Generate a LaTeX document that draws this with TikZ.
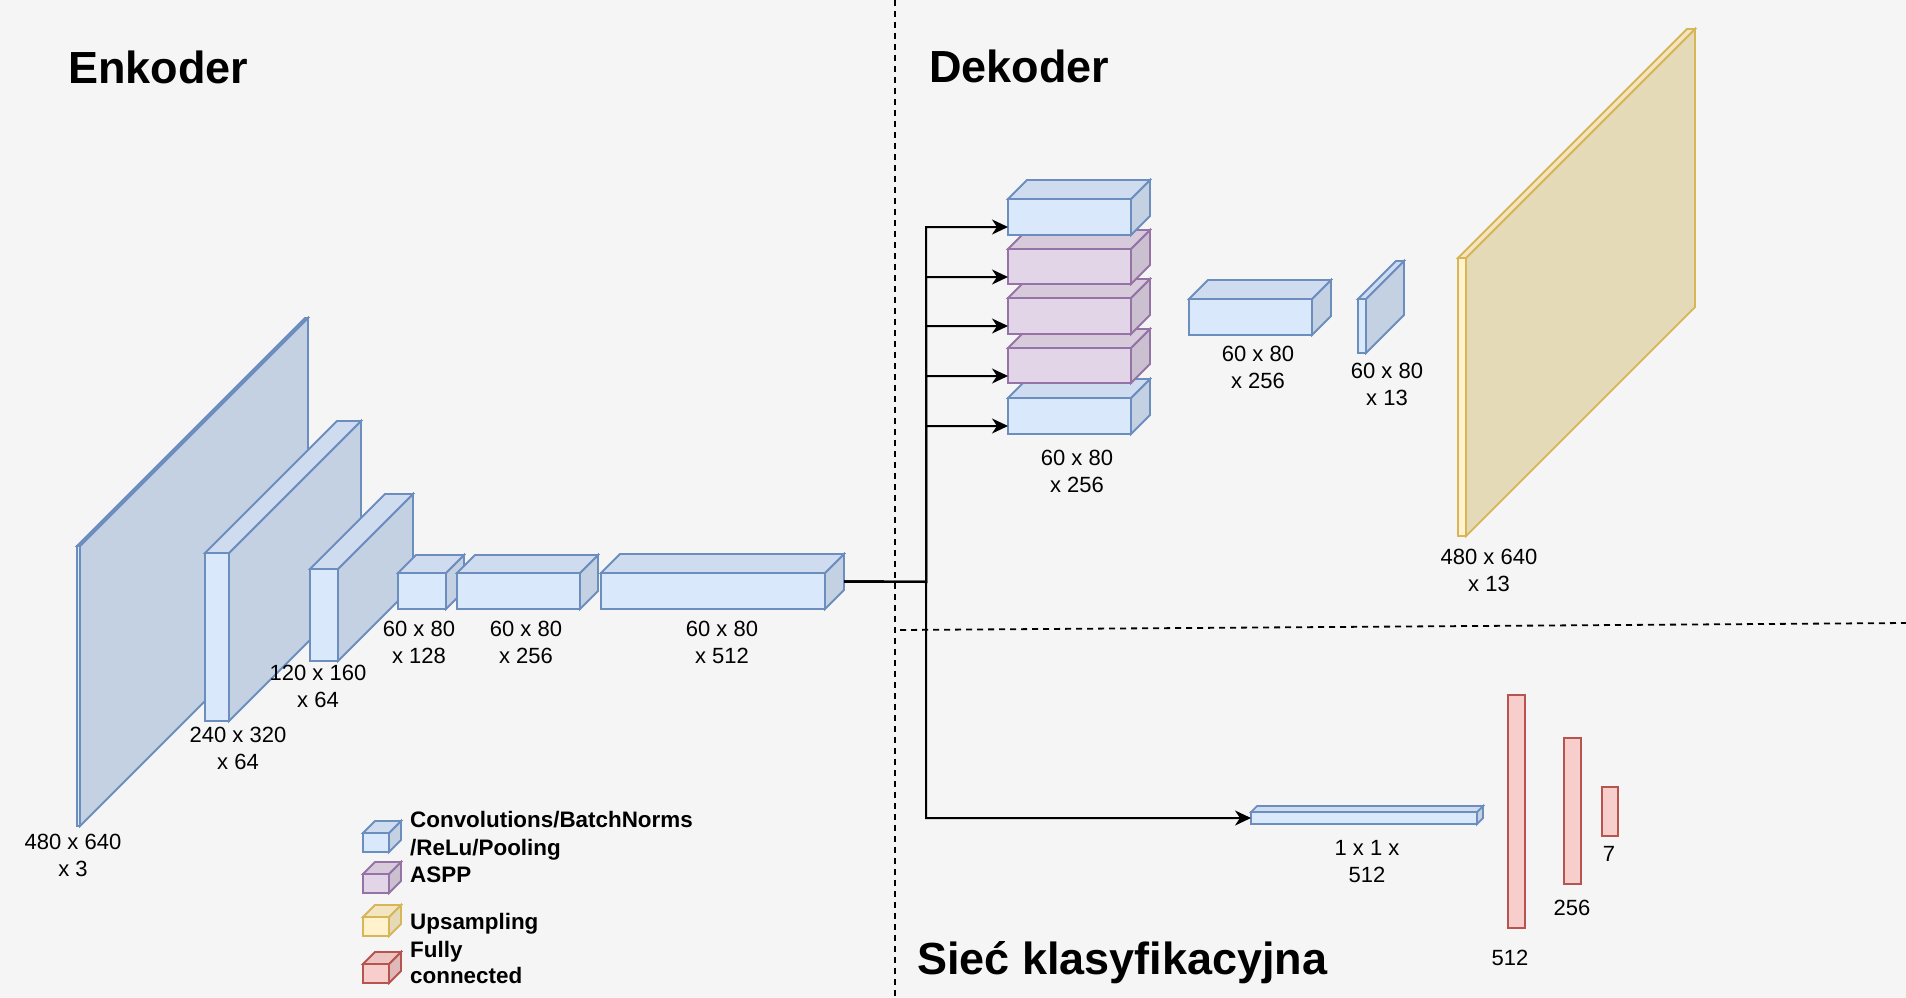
\documentclass[tikz,border=0pt]{standalone}
\usepackage{fontspec}
\setmainfont{Liberation Sans}
\usetikzlibrary{arrows.meta}
\definecolor{bgc}{HTML}{F5F5F5}
\definecolor{bluef}{HTML}{DAE8FC}
\definecolor{blues}{HTML}{6C8EBF}
\definecolor{purf}{HTML}{E1D5E7}
\definecolor{purs}{HTML}{9673A6}
\definecolor{yelf}{HTML}{FFF2CC}
\definecolor{yels}{HTML}{D6B656}
\definecolor{redf}{HTML}{F8CECC}
\definecolor{reds}{HTML}{B85450}
\tikzset{
  cubeline/.style={line width=1.8pt, line join=miter},
  lbl/.style={font=\fontsize{22}{27}\selectfont, align=center, inner sep=0pt},
  ttl/.style={font=\fontsize{45}{54}\selectfont\bfseries, inner sep=0pt, anchor=base west},
  leg/.style={font=\fontsize{22.4}{27}\selectfont\bfseries, inner sep=0pt, anchor=base west},
  conn/.style={line width=2pt, -{Stealth[length=16pt,width=15pt,inset=5pt]}},
  sep/.style={line width=1.8pt, dash pattern=on 6pt off 5pt},
}
% #1 name, #2 x0, #3 y0 (top), #4 x1, #5 y1 (bottom), #6 depth, #7 fill, #8 stroke
\newcommand\dcube[8]{%
  \filldraw[cubeline, draw=#8, fill=#7!90!black] (#4,#3) -- ++(#6,-#6) -- ++(0,#5-#3) -- (#4,#5) -- cycle;
  \filldraw[cubeline, draw=#8, fill=#7!95!black] (#2,#3) -- ++(#6,-#6) -- (#4+#6,#3-#6) -- (#4,#3) -- cycle;
  \filldraw[cubeline, draw=#8, fill=#7] (#2,#3) rectangle (#4,#5);
  \coordinate (#1) at ({(#2+#4)/2},{(#3+#5)/2});
  \coordinate (#1-e) at (#4+#6,{(#3-#6+#5)/2});
}
\begin{document}
\begin{tikzpicture}[x=1pt,y=-1pt]
\fill[bgc] (0,0) rectangle (1906,998);
\useasboundingbox (0,0) rectangle (1906,998);

% separators
\draw[sep] (895,0) -- (895,998);
\draw[sep] (900,630) -- (1906,623);

% titles
\node[ttl] (tenc) at (68,83) {Enkoder};
\node[ttl] (tdec) at (929,82) {Dekoder};
\node[ttl] (tcls) at (917,974) {Sieć klasyfikacyjna};

% encoder
\dcube{b1}{77}{546}{80}{826}{228}{bluef}{blues}
\dcube{b2}{205}{553}{229}{721}{132}{bluef}{blues}
\dcube{b3}{310}{569}{338}{661}{75}{bluef}{blues}
\dcube{b4}{398}{573}{446}{609}{18}{bluef}{blues}
\dcube{b5}{457}{573}{580}{609}{18}{bluef}{blues}
\dcube{b6}{601}{573}{825}{609}{19}{bluef}{blues}

\node[lbl] (l1) at (73,855.5) {480 x 640\\x 3};
\node[lbl] (l2) at (238,748.5) {240 x 320\\x 64};
\node[lbl] (l3) at (318,686.5) {120 x 160\\x 64};
\node[lbl] (l4) at (419,642) {60 x 80\\x 128};
\node[lbl] (l5) at (526,642) {60 x 80\\x 256};
\node[lbl] (l6) at (722,642) {60 x 80\\x 512};

% decoder ASPP stack (bottom first)
\dcube{a5}{1008}{398}{1131}{434}{19}{bluef}{blues}
\dcube{a4}{1008}{348}{1131}{383}{19}{purf}{purs}
\dcube{a3}{1008}{298}{1131}{334}{19}{purf}{purs}
\dcube{a2}{1008}{249}{1131}{284}{19}{purf}{purs}
\dcube{a1}{1008}{199}{1131}{235}{19}{bluef}{blues}
\node[lbl] (la) at (1077,471.5) {60 x 80\\x 256};

\dcube{d1}{1189}{299}{1312}{335}{19}{bluef}{blues}
\node[lbl] (ld1) at (1258,367.5) {60 x 80\\x 256};
\dcube{d2}{1358}{299}{1366}{353}{38}{bluef}{blues}
\node[lbl] (ld2) at (1387,384.5) {60 x 80\\x 13};
\dcube{up}{1458}{258}{1466}{536}{229}{yelf}{yels}
\node[lbl] (lup) at (1489,570) {480 x 640\\x 13};

% classification
\dcube{fc0}{1251}{812}{1477}{824}{6}{bluef}{blues}
\node[lbl] (lfc0) at (1367,861.5) {1 x 1 x\\512};
\filldraw[cubeline, draw=reds, fill=redf] (1508,695) rectangle (1525,928);
\filldraw[cubeline, draw=reds, fill=redf] (1564,738) rectangle (1581,884);
\filldraw[cubeline, draw=reds, fill=redf] (1602,787) rectangle (1618,836);
\node[lbl] (lfc1) at (1510,958) {512};
\node[lbl] (lfc2) at (1572,908) {256};
\node[lbl] (lfc3) at (1609,854) {7};

% connectors
\coordinate (bus) at (926,582);
\coordinate (a1in) at (1008,227);
\coordinate (a2in) at (1008,277);
\coordinate (a3in) at (1008,326);
\coordinate (a4in) at (1008,376);
\coordinate (a5in) at (1008,426);
\coordinate (fcin) at (1251,818);
\foreach \t in {a1in,a2in,a3in,a4in,a5in,fcin}{
  \draw[conn] (b6-e) -- (bus) |- (\t);
}

% legend
\dcube{k1}{363}{833}{389}{852}{12}{bluef}{blues}
\dcube{k2}{363}{874}{389}{893}{12}{purf}{purs}
\dcube{k3}{363}{917}{389}{936}{12}{yelf}{yels}
\dcube{k4}{363}{964}{389}{983}{12}{redf}{reds}
\node[leg] (t1) at (410,827) {Convolutions/BatchNorms};
\node[leg] (t1b) at (410,855) {/ReLu/Pooling};
\node[leg] (t2) at (410,882) {ASPP};
\node[leg] (t3) at (410,929) {Upsampling};
\node[leg] (t4) at (410,957) {Fully};
\node[leg] (t4b) at (410,983) {connected};
\end{tikzpicture}
\end{document}
